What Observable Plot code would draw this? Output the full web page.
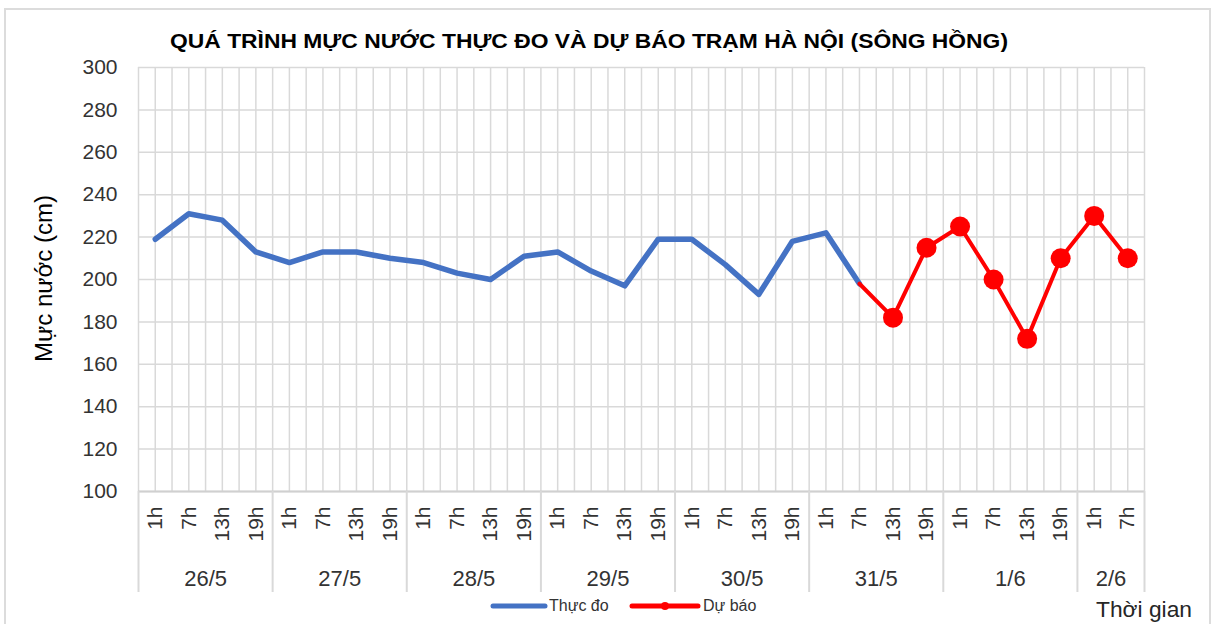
<!DOCTYPE html>
<html>
<head>
<meta charset="utf-8">
<script src="https://cdn.jsdelivr.net/npm/d3@7"></script>
<script src="https://cdn.jsdelivr.net/npm/@observablehq/plot@0.6"></script>
<style>
  html, body { margin: 0; padding: 0; background: #fff; }
  #wrap { position: relative; width: 1215px; height: 624px; overflow: hidden; font-family: "Liberation Sans", Arial, sans-serif; }
  #border { position: absolute; left: 4px; top: 8px; width: 1207px; height: 700px; border: 2px solid #dcdcdc; box-sizing: border-box; }
  #chart { position: absolute; left: 0; top: 0; }
  #overlay { position: absolute; left: 0; top: 0; pointer-events: none; }
</style>
</head>
<body>
<div id="wrap">
  <div id="border"></div>
  <div id="chart"></div>
  <svg id="overlay" width="1215" height="624" font-family="Liberation Sans, Arial, sans-serif">
    <text id="title" x="589" y="47.5" text-anchor="middle" font-weight="bold" font-size="21" fill="#000" textLength="838" lengthAdjust="spacingAndGlyphs"></text>
    <text id="ylabel" transform="translate(51.5,278.5) rotate(-90)" text-anchor="middle" font-size="23" fill="#000" textLength="167" lengthAdjust="spacingAndGlyphs"></text>
    <g id="legend"></g>
    <text id="xlabel" x="1096" y="616.5" font-size="22" fill="#262626" textLength="96" lengthAdjust="spacingAndGlyphs"></text>
  </svg>
</div>
<script>
// ---- data ----
const title = "QUÁ TRÌNH MỰC NƯỚC THỰC ĐO VÀ DỰ BÁO TRẠM HÀ NỘI (SÔNG HỒNG)";
const yLabel = "Mực nước (cm)";
const xLabel = "Thời gian";
const days = ["26/5", "27/5", "28/5", "29/5", "30/5", "31/5", "1/6", "2/6"];
const hoursPerDay = [4, 4, 4, 4, 4, 4, 4, 2];
const hours = ["1h", "7h", "13h", "19h"];
const yTicks = [100, 120, 140, 160, 180, 200, 220, 240, 260, 280, 300];
const seriesNames = ["Thực đo", "Dự báo"];
// observed water level (cm), from 26/5 1h to 31/5 7h
const observed = [219, 231, 228, 213, 208, 213, 213, 210, 208, 203, 200, 211,
                  213, 204, 197, 219, 219, 207, 193, 218, 222, 198];
// forecast water level (cm), from 31/5 7h to 2/6 7h
const forecastStart = 21;
const forecast = [198, 182, 215, 225, 200, 172, 210, 230, 210];

// ---- derived tables ----
const timeLabels = days.flatMap((d, k) => hours.slice(0, hoursPerDay[k]));
const n = timeLabels.length;
const obsRows = observed.map((v, i) => ({i, v}));
const fcRows = forecast.map((v, k) => ({i: forecastStart + k, v}));
const boundaries = [-0.5];
hoursPerDay.forEach(h => boundaries.push(boundaries[boundaries.length - 1] + h));
const dayCenters = days.map((d, k) => (boundaries[k] + boundaries[k + 1]) / 2);
const gridXTicks = d3.range(-0.5, n - 0.5 + 0.01, 0.5);

const blue = "#4472C4", red = "#FF0000", grid = "#d9d9d9";

const chart = Plot.plot({
  width: 1215,
  height: 624,
  marginLeft: 138,
  marginRight: 71,
  marginTop: 67,
  marginBottom: 133,
  style: {fontFamily: "Liberation Sans, Arial, sans-serif", fontSize: "21px", color: "#333", background: "transparent"},
  x: {type: "linear", domain: [-0.5, n - 0.5]},
  y: {domain: [100, 300]},
  marks: [
    Plot.gridY(yTicks, {stroke: grid, strokeOpacity: 1, strokeWidth: 1.5}),
    Plot.gridX(gridXTicks, {stroke: grid, strokeOpacity: 1, strokeWidth: 1.5}),
    Plot.ruleY([100], {stroke: "#d0d0d0", strokeWidth: 2}),
    Plot.axisY(yTicks, {tickSize: 0, tickPadding: 21, label: null, fontSize: 21}),
    Plot.axisX(d3.range(n), {tickSize: 0, tickPadding: 15, tickRotate: -90, textAnchor: "end",
      tickFormat: i => timeLabels[i], label: null, fontSize: 21}),
    Plot.axisX(boundaries, {tickSize: 101, tickFormat: () => "", stroke: grid, strokeWidth: 2, strokeOpacity: 1, label: null}),
    Plot.axisX(dayCenters, {tickSize: 0, tickPadding: 79, tickFormat: d => days[dayCenters.indexOf(d)], label: null, fontSize: 22}),
    Plot.line(obsRows, {x: "i", y: "v", stroke: blue, strokeWidth: 5.5, strokeLinejoin: "round", strokeLinecap: "round"}),
    Plot.line(fcRows, {x: "i", y: "v", stroke: red, strokeWidth: 4, strokeLinejoin: "round"}),
    Plot.dot(fcRows.slice(1), {x: "i", y: "v", r: 10, fill: red})
  ]
});
document.getElementById("chart").appendChild(chart);

document.getElementById("title").textContent = title;
document.getElementById("ylabel").textContent = yLabel;
document.getElementById("xlabel").textContent = xLabel;

// legend
const lg = d3.select("#legend");
lg.append("line").attr("x1", 493).attr("x2", 545).attr("y1", 606).attr("y2", 606).attr("stroke", blue).attr("stroke-width", 5).attr("stroke-linecap", "round");
lg.append("text").attr("x", 549).attr("y", 611).attr("font-size", 16).attr("fill", "#333").text(seriesNames[0]);
lg.append("line").attr("x1", 632).attr("x2", 698).attr("y1", 606).attr("y2", 606).attr("stroke", red).attr("stroke-width", 5).attr("stroke-linecap", "round");
lg.append("circle").attr("cx", 665).attr("cy", 606).attr("r", 4).attr("fill", red);
lg.append("text").attr("x", 703).attr("y", 611).attr("font-size", 16).attr("fill", "#333").text(seriesNames[1]);
</script>
</body>
</html>
